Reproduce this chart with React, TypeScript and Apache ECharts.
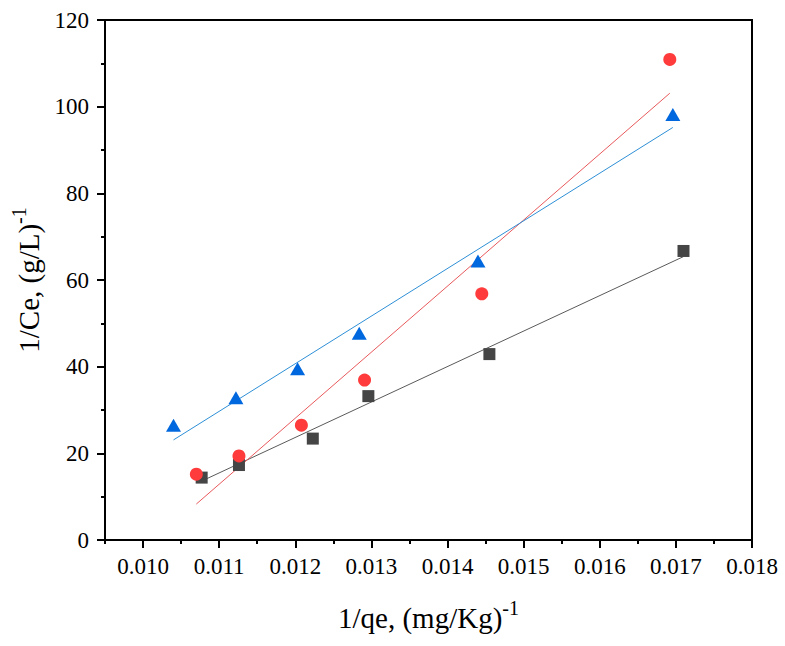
import React, { useEffect, useRef } from "react";
import * as echarts from "echarts";

// ---- data ----
const squareX = [0.01077, 0.01126, 0.01223, 0.01296, 0.01455, 0.0171];
const squareY = [14.4, 17.3, 23.4, 33.2, 42.9, 66.7];

const circleX = [0.0107, 0.01126, 0.01208, 0.01291, 0.01445, 0.01692];
const circleY = [15.2, 19.4, 26.5, 36.9, 56.8, 110.9];

const triangleX = [0.0104, 0.01122, 0.01203, 0.01284, 0.0144, 0.01696];
const triangleY = [26.5, 32.8, 39.5, 47.7, 64.4, 98.2];

// fitted lines (end points)
const blackFitX = [0.01077, 0.0171];
const blackFitY = [13.6, 65.4];
const redFitX = [0.0107, 0.01692];
const redFitY = [8.3, 103.1];
const blueFitX = [0.0104, 0.01696];
const blueFitY = [23.1, 95.2];

// axes
const X_MIN = 0.0095;
const X_MAX = 0.018;
const xMajorTicks = [0.01, 0.011, 0.012, 0.013, 0.014, 0.015, 0.016, 0.017, 0.018];
const xMinorTicks = [0.0095, 0.0105, 0.0115, 0.0125, 0.0135, 0.0145, 0.0155, 0.0165, 0.0175];
const Y_MIN = 0;
const Y_MAX = 120;
const Y_INTERVAL = 20;

const xTitle = "1/qe, (mg/Kg)";
const yTitle = "1/Ce, (g/L)";
const supText = "-1";

const FONT = "Liberation Serif";

const pairs = (xs: number[], ys: number[]) => xs.map((x, i) => [x, ys[i]]);

export default function App() {
  const ref = useRef<HTMLDivElement>(null);
  useEffect(() => {
    if (!ref.current) return;
    const chart = echarts.init(ref.current, undefined, { renderer: "svg" });
    const rich = {
      a: { fontSize: 29, fontFamily: FONT, color: "#000", lineHeight: 40 },
      b: { fontSize: 20, fontFamily: FONT, color: "#000", lineHeight: 20, verticalAlign: "top" as const },
    };
    const labelStyle = { fontFamily: FONT, fontSize: 23, color: "#000" };
    const option: any = {
      animation: false,
      backgroundColor: "#fff",
      textStyle: { fontFamily: FONT },
      grid: {
        left: 105,
        right: 33,
        top: 20,
        bottom: 106,
        show: true,
        borderColor: "#000",
        borderWidth: 2,
        backgroundColor: "transparent",
      },
      xAxis: [
        {
          type: "value",
          min: X_MIN,
          max: X_MAX,
          position: "bottom",
          axisLine: { show: true, onZero: false, lineStyle: { color: "#000", width: 2 } },
          axisTick: { show: true, inside: false, length: 8, lineStyle: { color: "#000", width: 2 }, customValues: xMajorTicks },
          axisLabel: {
            ...labelStyle,
            customValues: xMajorTicks,
            formatter: (v: number) => v.toFixed(3),
            margin: 15,
          },
          splitLine: { show: false },
          name: `{a|${xTitle}}{b|${supText}}`,
          nameLocation: "middle",
          nameGap: 58,
          nameTextStyle: { rich },
        },
        {
          type: "value",
          min: X_MIN,
          max: X_MAX,
          position: "bottom",
          axisLine: { show: false },
          axisTick: { show: true, inside: false, length: 4, lineStyle: { color: "#000", width: 2 }, customValues: xMinorTicks },
          axisLabel: { show: false },
          splitLine: { show: false },
        },
      ],
      yAxis: {
        type: "value",
        min: Y_MIN,
        max: Y_MAX,
        interval: Y_INTERVAL,
        axisLine: { show: true, onZero: false, lineStyle: { color: "#000", width: 2 } },
        axisTick: { show: true, inside: false, length: 8, lineStyle: { color: "#000", width: 2 } },
        minorTick: { show: true, splitNumber: 2, length: 4, lineStyle: { color: "#000", width: 2 } },
        axisLabel: { ...labelStyle, margin: 16 },
        splitLine: { show: false },
        minorSplitLine: { show: false },
        name: `{a|${yTitle}}{b|${supText}}`,
        nameLocation: "middle",
        nameGap: 46,
        nameRotate: 90,
        nameTextStyle: { rich },
      },
      series: [
        {
          type: "line",
          data: pairs(blackFitX, blackFitY),
          symbol: "none",
          lineStyle: { color: "#5a5a5a", width: 1 },
          z: 1,
        },
        {
          type: "line",
          data: pairs(redFitX, redFitY),
          symbol: "none",
          lineStyle: { color: "#E8595C", width: 1 },
          z: 1,
        },
        {
          type: "line",
          data: pairs(blueFitX, blueFitY),
          symbol: "none",
          lineStyle: { color: "#2E8FD6", width: 1 },
          z: 1,
        },
        {
          type: "scatter",
          data: pairs(squareX, squareY),
          symbol: "rect",
          symbolSize: 12,
          itemStyle: { color: "#454545", opacity: 1 },
          z: 2,
        },
        {
          type: "scatter",
          data: pairs(circleX, circleY),
          symbol: "circle",
          symbolSize: 13,
          itemStyle: { color: "#FF3B3B", opacity: 1 },
          z: 3,
        },
        {
          type: "scatter",
          data: pairs(triangleX, triangleY),
          symbol: "triangle",
          symbolSize: [15, 13],
          itemStyle: { color: "#0068DE", opacity: 1 },
          z: 4,
        },
      ],
    };
    chart.setOption(option);
    return () => chart.dispose();
  }, []);
  return (
    <div
      ref={ref}
      style={{ position: "fixed", left: 0, top: 0, width: 785, height: 646 }}
    />
  );
}
